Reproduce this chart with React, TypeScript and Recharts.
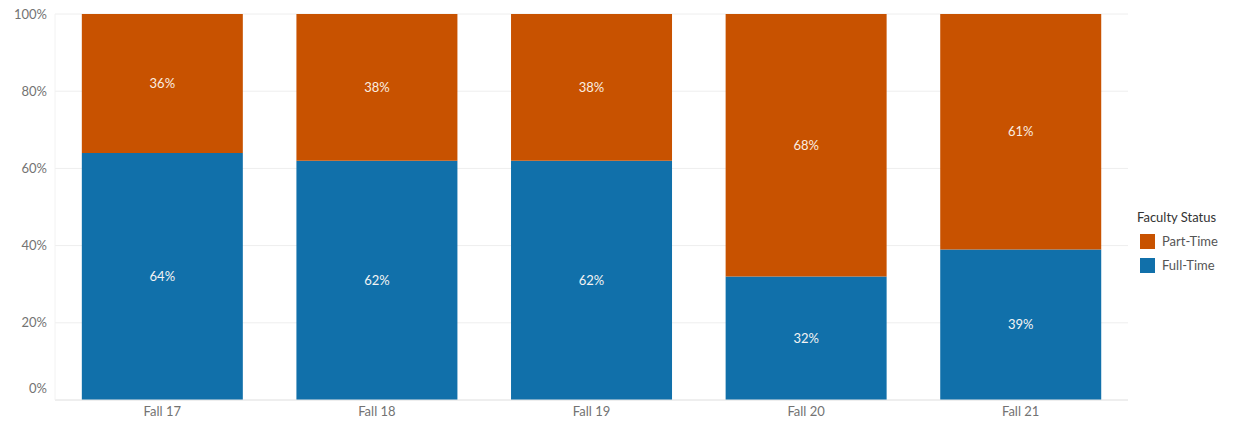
import React from "react";
import { BarChart, Bar, XAxis, YAxis, CartesianGrid, LabelList } from "recharts";

const categories = ["Fall 17", "Fall 18", "Fall 19", "Fall 20", "Fall 21"];
const fullTime = [64, 62, 62, 32, 39];
const partTime = [36, 38, 38, 68, 61];
const yTicks = [0, 20, 40, 60, 80, 100];

const BLUE = "#1170aa";
const ORANGE = "#c85200";
const FONT = "Lato, 'Open Sans', sans-serif";

const data = categories.map((c, i) => ({ name: c, full: fullTime[i], part: partTime[i] }));

const YTick = (props: any) => {
  const { x, y, payload } = props;
  const dy = payload.value === 0 ? -12 : 0;
  return (
    <text x={x} y={y + dy} dy="0.35em" textAnchor="end" fill="#737373" fontSize={13} fontFamily={FONT}>
      {payload.value}%
    </text>
  );
};

export default function App() {
  return (
    <div style={{ position: "absolute", left: 0, top: 0, width: 1243, height: 428, background: "#fff" }}>
      <BarChart
        width={1243}
        height={428}
        data={data}
        margin={{ top: 14, right: 115, bottom: 0, left: 0 }}
        barCategoryGap="12.5%"
      >
        <CartesianGrid vertical={false} stroke="#eeeeee" />
        <XAxis
          dataKey="name"
          height={28}
          tickLine={false}
          axisLine={{ stroke: "#e6e6e6" }}
          tickSize={0}
          tickMargin={7}
          tick={{ fill: "#737373", fontSize: 13, fontFamily: FONT }}
        />
        <YAxis
          width={55}
          domain={[0, 100]}
          ticks={yTicks}
          tickLine={false}
          axisLine={{ stroke: "#f2f2f2" }}
          tickSize={0}
          tickMargin={8}
          tick={<YTick />}
          interval={0}
        />
        <Bar dataKey="full" stackId="a" fill={BLUE} isAnimationActive={false}>
          <LabelList
            dataKey="full"
            position="center"
            formatter={(v: any) => `${v}%`}
            fill="#f4f4f4"
            fontSize={13}
            fontFamily={FONT}
          />
        </Bar>
        <Bar dataKey="part" stackId="a" fill={ORANGE} isAnimationActive={false}>
          <LabelList
            dataKey="part"
            position="center"
            formatter={(v: any) => `${v}%`}
            fill="#fbeee0"
            fontSize={13}
            fontFamily={FONT}
          />
        </Bar>
      </BarChart>
      <div style={{ position: "absolute", left: 1137, top: 208, fontFamily: FONT, fontSize: 13, color: "#333" }}>
        <div style={{ height: 18, lineHeight: "18px" }}>Faculty Status</div>
        <div style={{ display: "flex", alignItems: "center", marginTop: 6, height: 18 }}>
          <span style={{ width: 15, height: 15, background: ORANGE, display: "inline-block", marginLeft: 3, marginRight: 7 }} />
          <span style={{ color: "#555" }}>Part-Time</span>
        </div>
        <div style={{ display: "flex", alignItems: "center", marginTop: 6, height: 18 }}>
          <span style={{ width: 15, height: 15, background: BLUE, display: "inline-block", marginLeft: 3, marginRight: 7 }} />
          <span style={{ color: "#555" }}>Full-Time</span>
        </div>
      </div>
    </div>
  );
}
